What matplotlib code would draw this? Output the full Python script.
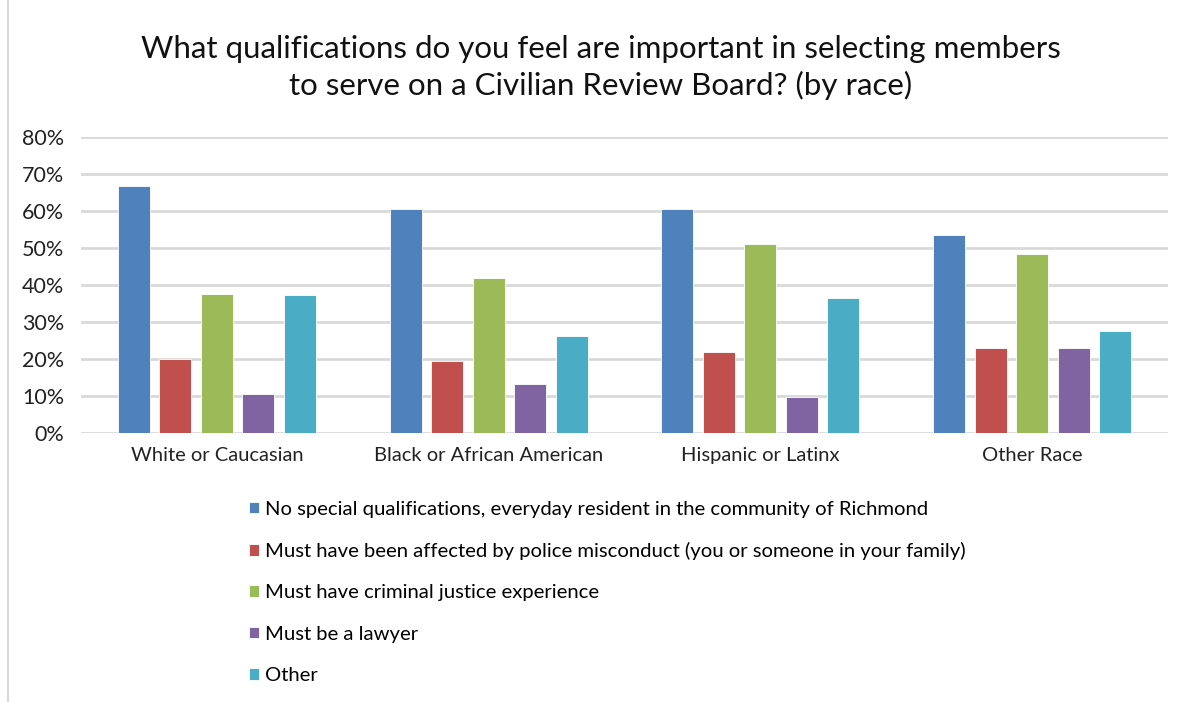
import numpy as np
import matplotlib
matplotlib.use("Agg")
import matplotlib.pyplot as plt
from matplotlib.lines import Line2D

plt.rcParams['font.family'] = ['Lato', 'DejaVu Sans']

categories = ["White or Caucasian", "Black or African American", "Hispanic or Latinx", "Other Race"]
series_names = [
    "No special qualifications, everyday resident in the community of Richmond",
    "Must have been affected by police misconduct (you or someone in your family)",
    "Must have criminal justice experience",
    "Must be a lawyer",
    "Other",
]
no_special = [66.8, 60.5, 60.5, 53.4]
affected = [20.1, 19.5, 21.8, 23.0]
criminal_justice = [37.7, 42.0, 51.1, 48.5]
lawyer = [10.6, 13.2, 9.7, 23.0]
other = [37.4, 26.3, 36.4, 27.6]
series = [no_special, affected, criminal_justice, lawyer, other]
colors = ["#4F81BD", "#C0504D", "#9BBB59", "#8064A2", "#4BACC6"]

fig = plt.figure(figsize=(11.89, 7.02), dpi=100)
ax = fig.add_axes([0.0681, 0.3832, 0.9142, 0.4216])

x = np.arange(len(categories))
pitch = 0.1527
width = 0.118
for i, vals in enumerate(series):
    ax.bar(x + (i - 2) * pitch, vals, width, color=colors[i], edgecolor="white",
           linewidth=0.6, label=series_names[i], zorder=3)

ax.set_xlim(-0.5, len(categories) - 0.5)
ax.set_ylim(0, 80)
ax.set_yticks(range(0, 81, 10))
ax.set_yticklabels([f"{v}%" for v in range(0, 81, 10)], fontsize=15.5)
ax.set_xticks(x)
ax.set_xticklabels(categories, fontsize=14.5)
ax.tick_params(axis='both', length=0, colors="#222222")
ax.tick_params(axis='y', pad=12)
ax.tick_params(axis='x', pad=10)
ax.grid(axis='y', color="#D9D9D9", linewidth=2, zorder=0)
for s in ax.spines.values():
    s.set_visible(False)

fig.text(0.505, 0.904, "What qualifications do you feel are important in selecting members\nto serve on a Civilian Review Board? (by race)",
         ha="center", va="center", fontsize=22.5, linespacing=1.32, color="#111111")

fig.legend(loc="upper left", bbox_to_anchor=(0.2094, 0.287), frameon=False, fontsize=14.6,
           handlelength=0.5, handleheight=0.5, handletextpad=0.3, labelspacing=1.2,
           borderaxespad=0, borderpad=0)

fig.add_artist(Line2D([0.0067, 0.0067], [0.0, 1.0], color="#D9D9D9", linewidth=1.5,
                      transform=fig.transFigure))

fig.savefig("out.png", dpi=100)
